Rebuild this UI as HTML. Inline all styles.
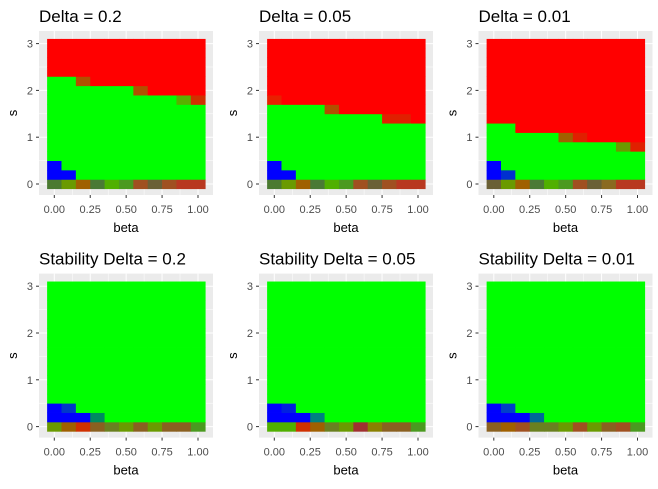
<!DOCTYPE html>
<html><head><meta charset="utf-8"><style>
body{margin:0;background:#fff;}
svg text{font-family:"Liberation Sans",sans-serif;}
</style></head><body>
<svg id="c" width="658" height="484" xmlns="http://www.w3.org/2000/svg"></svg>
<script>
const titles=["Delta = 0.2","Delta = 0.05","Delta = 0.01","Stability Delta = 0.2","Stability Delta = 0.05","Stability Delta = 0.01"];
const betas=[0,0.1,0.2,0.3,0.4,0.5,0.6,0.7,0.8,0.9,1.0];
const sVals=[0,0.2,0.4,0.6,0.8,1.0,1.2,1.4,1.6,1.8,2.0,2.2,2.4,2.6,2.8,3.0];
const xTicks=[0,0.25,0.5,0.75,1];
const xTickLabels=["0.00","0.25","0.50","0.75","1.00"];
const yTicks=[0,1,2,3];
// index of first red row per column
const redStart1=[12,12,11,11,11,11,10,10,10,9,9];
const redStart2=[9,9,9,9,8,8,8,8,7,7,7];
const redStart3=[7,7,6,6,6,5,5,5,5,4,4];
const redStart4=[16,16,16,16,16,16,16,16,16,16,16];
const redStart5=[16,16,16,16,16,16,16,16,16,16,16];
const redStart6=[16,16,16,16,16,16,16,16,16,16,16];
const bottom1=["#4a7a30","#6a9a00","#a06000","#4a7a35","#50b000","#4a9a20","#a05020","#6a6035","#a05020","#b83820","#b83820"];
const bottom2=["#4a7a30","#6a9a00","#a06000","#4a7a35","#50b000","#4a9a20","#a05020","#6a6035","#a05020","#b83820","#b83820"];
const bottom3=["#6a6035","#6a9a00","#a06000","#4a7a35","#50b000","#4a9a20","#a05020","#6a6035","#8a6a20","#b83820","#b83820"];
const bottom4=["#6a9a00","#a06000","#d03000","#8a6020","#6a8020","#6a9a00","#8a6020","#6a9a00","#8a6020","#8a6020","#4a9a20"];
const bottom5=["#50b000","#50b000","#d03000","#a06000","#6a8020","#6a9a00","#a03030","#8a8000","#8a6020","#8a6020","#4a9a20"];
const bottom6=["#8a6020","#a06000","#a05020","#6a8020","#6a8020","#6a9a00","#a05020","#6a9a00","#8a6020","#a05020","#4a9a20"];
// special cells: [col,row,color]
const special1=[[0,1,"#0000ff"],[0,2,"#0000ff"],[1,1,"#0000ff"],[2,11,"#b05000"],[6,10,"#b05000"],[9,9,"#58b000"],[10,9,"#d03000"]];
const special2=[[0,1,"#0000ff"],[0,2,"#0000ff"],[1,1,"#0000ff"],[0,9,"#e82000"],[4,8,"#b05000"],[8,7,"#e02000"],[9,7,"#e02000"]];
const special3=[[0,1,"#0000ff"],[0,2,"#0000ff"],[1,1,"#0030d0"],[5,5,"#a06000"],[6,5,"#e02000"],[9,4,"#6a9a00"],[10,4,"#e02000"]];
const special4=[[0,1,"#0000ff"],[0,2,"#0000ff"],[1,1,"#0000ff"],[1,2,"#0038c8"],[2,1,"#0000ff"],[3,1,"#008a60"]];
const special5=[[0,1,"#0000ff"],[0,2,"#0000ff"],[1,1,"#0000ff"],[1,2,"#0020e0"],[2,1,"#0000ff"],[3,1,"#008080"]];
const special6=[[0,1,"#0000ff"],[0,2,"#0000ff"],[1,1,"#0000ff"],[1,2,"#0040c8"],[2,1,"#0000ff"],[3,1,"#006898"]];
const redStarts=[redStart1,redStart2,redStart3,redStart4,redStart5,redStart6];
const bottoms=[bottom1,bottom2,bottom3,bottom4,bottom5,bottom6];
const specials=[special1,special2,special3,special4,special5,special6];

const svg=document.getElementById('c');
const NS="http://www.w3.org/2000/svg";
function mk(tag,attrs,parent){const e=document.createElementNS(NS,tag);for(const k in attrs)e.setAttribute(k,attrs[k]);(parent||svg).appendChild(e);return e;}
const offX=[0,220,439.5],offY=[0,242.6];
const XU=143.7,YU=46.8;
for(let p=0;p<6;p++){
  const ox=offX[p%3],oy=offY[Math.floor(p/3)];
  const g=mk('g',{});
  
  
  const x=b=>ox+54.3+b*XU;
  const y=s=>oy+184-s*YU;
  const bg=mk('rect',{x:ox+39,y:oy+31,width:174,height:164,fill:'#ebebeb'},g);
  
  
  [0.125,0.375,0.625,0.875].forEach(v=>mk('line',{x1:x(v),x2:x(v),y1:oy+31,y2:oy+195,stroke:'#fff','stroke-width':0.5},g));
  [0.5,1.5,2.5].forEach(v=>mk('line',{x1:ox+39,x2:ox+213,y1:y(v),y2:y(v),stroke:'#fff','stroke-width':0.5},g));
  xTicks.forEach(v=>mk('line',{x1:x(v),x2:x(v),y1:oy+31,y2:oy+195,stroke:'#fff','stroke-width':1},g));
  yTicks.forEach(v=>mk('line',{x1:ox+39,x2:ox+213,y1:y(v),y2:y(v),stroke:'#fff','stroke-width':1},g));
  const cells=mk('g',{},g);
  
  
  const spec={};specials[p].forEach(s=>spec[s[0]+','+s[1]]=s[2]);
  betas.forEach((b,ci)=>{
    sVals.forEach((s,ri)=>{
      let col;
      if(spec[ci+','+ri])col=spec[ci+','+ri];
      else if(ri===0)col=bottoms[p][ci];
      else if(ri>=redStarts[p][ci])col='#ff0000';
      else col='#00ff00';
      const r=mk('rect',{x:x(b-0.05),y:y(s+0.1),width:x(b+0.05)-x(b-0.05)+0.4,height:y(s-0.1)-y(s+0.1)+0.4,fill:col},cells);
      
      
    });
  });
  xTicks.forEach((v,i)=>{
    mk('line',{x1:x(v),x2:x(v),y1:oy+195,y2:oy+198,stroke:'#333','stroke-width':1},g);
    const t=mk('text',{x:x(v),y:oy+213,'text-anchor':'middle','font-size':11,fill:'#4d4d4d'},g);
    t.textContent=xTickLabels[i];
    
    
  });
  yTicks.forEach(v=>{
    mk('line',{x1:ox+36,x2:ox+39,y1:y(v),y2:y(v),stroke:'#333','stroke-width':1},g);
    const t=mk('text',{x:ox+33,y:y(v)+4,'text-anchor':'end','font-size':11,fill:'#4d4d4d'},g);
    t.textContent=String(v);
    
    
  });
  const xl=mk('text',{x:ox+126,y:oy+232,'text-anchor':'middle','font-size':13,fill:'#000'},g);
  xl.textContent='beta';
  
  
  const yl=mk('text',{x:ox+17,y:oy+113,'text-anchor':'middle','font-size':13,fill:'#000',transform:`rotate(-90 ${ox+17} ${oy+113})`},g);
  yl.textContent='s';
  
  
  const tt=mk('text',{x:ox+39,y:oy+22,'font-size':17,fill:'#000'},g);
  tt.textContent=titles[p];
  
  
}
</script>
</body></html>
